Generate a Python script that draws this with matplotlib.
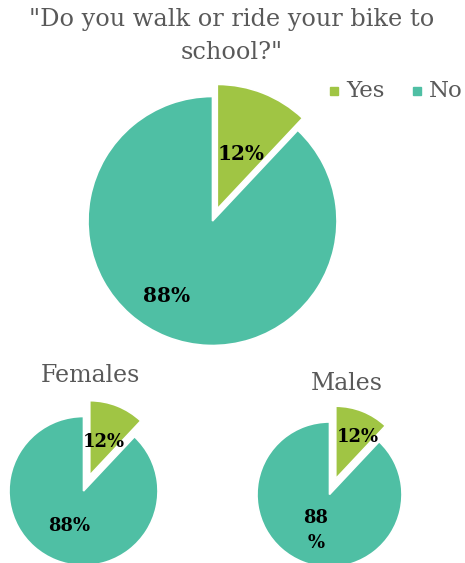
import matplotlib
matplotlib.use("Agg")
import matplotlib.pyplot as plt
from matplotlib.patches import Rectangle

categories = ["Yes", "No"]
overall = [12, 88]
females = [12, 88]
males = [12, 88]
title = "\"Do you walk or ride your bike to\nschool?\""
colors = ["#A0C544", "#4FBFA4"]

W, H = 465, 563
fig = plt.figure(figsize=(W / 100, H / 100), dpi=100)
ax = fig.add_axes([0, 0, 1, 1])

def Y(y):
    return H - y

def draw_pie(vals, cx, cy, r, explode, fs, label_pos, wrap=False):
    def fmt(p):
        s = f"{p:.0f}%"
        if wrap and round(p) == 88:
            s = f"{p:.0f}\n%"
        return s
    wedges, texts, autotexts = ax.pie(
        vals, colors=colors, startangle=90, counterclock=False,
        center=(cx, Y(cy)), radius=r, explode=[explode, 0],
        autopct=fmt, pctdistance=0.6,
        wedgeprops=dict(linewidth=1.2, edgecolor="white"), frame=True,
        textprops=dict(fontsize=fs, fontweight="bold", family="DejaVu Serif", color="black"))
    for t, (fx, fy) in zip(autotexts, label_pos):
        t.set_linespacing(1.5)
        t.set_position((cx + fx * r, Y(cy) + fy * r))
    return wedges

draw_pie(overall, 212.5, 221, 124.5, 13, 14.5, [(0.226, 0.54), (-0.37, -0.60)])
draw_pie(females, 83.5, 491, 74.5, 17, 13, [(0.27, 0.66), (-0.19, -0.47)])
draw_pie(males, 329.5, 494.5, 72.5, 17, 13, [(0.39, 0.80), (-0.19, -0.49)], wrap=True)

ax.set_xlim(0, W)
ax.set_ylim(0, H)
ax.set_aspect("equal")
ax.axis("off")

ax.text(232, Y(36), title, ha="center", va="center", fontsize=17.3,
        family="DejaVu Serif", color="#595959", linespacing=1.6)
ax.text(90, Y(375), "Females", ha="center", va="center", fontsize=17,
        family="DejaVu Serif", color="#595959")
ax.text(347, Y(384), "Males", ha="center", va="center", fontsize=17,
        family="DejaVu Serif", color="#595959")

# legend
lx = [330, 413]
for i, c in enumerate(categories):
    ax.add_patch(Rectangle((lx[i], Y(95)), 8, 8, color=colors[i]))
    ax.text(lx[i] + 16, Y(91), c, ha="left", va="center", fontsize=16.5,
            family="DejaVu Serif", color="#595959")

fig.savefig("out.png", dpi=100)
